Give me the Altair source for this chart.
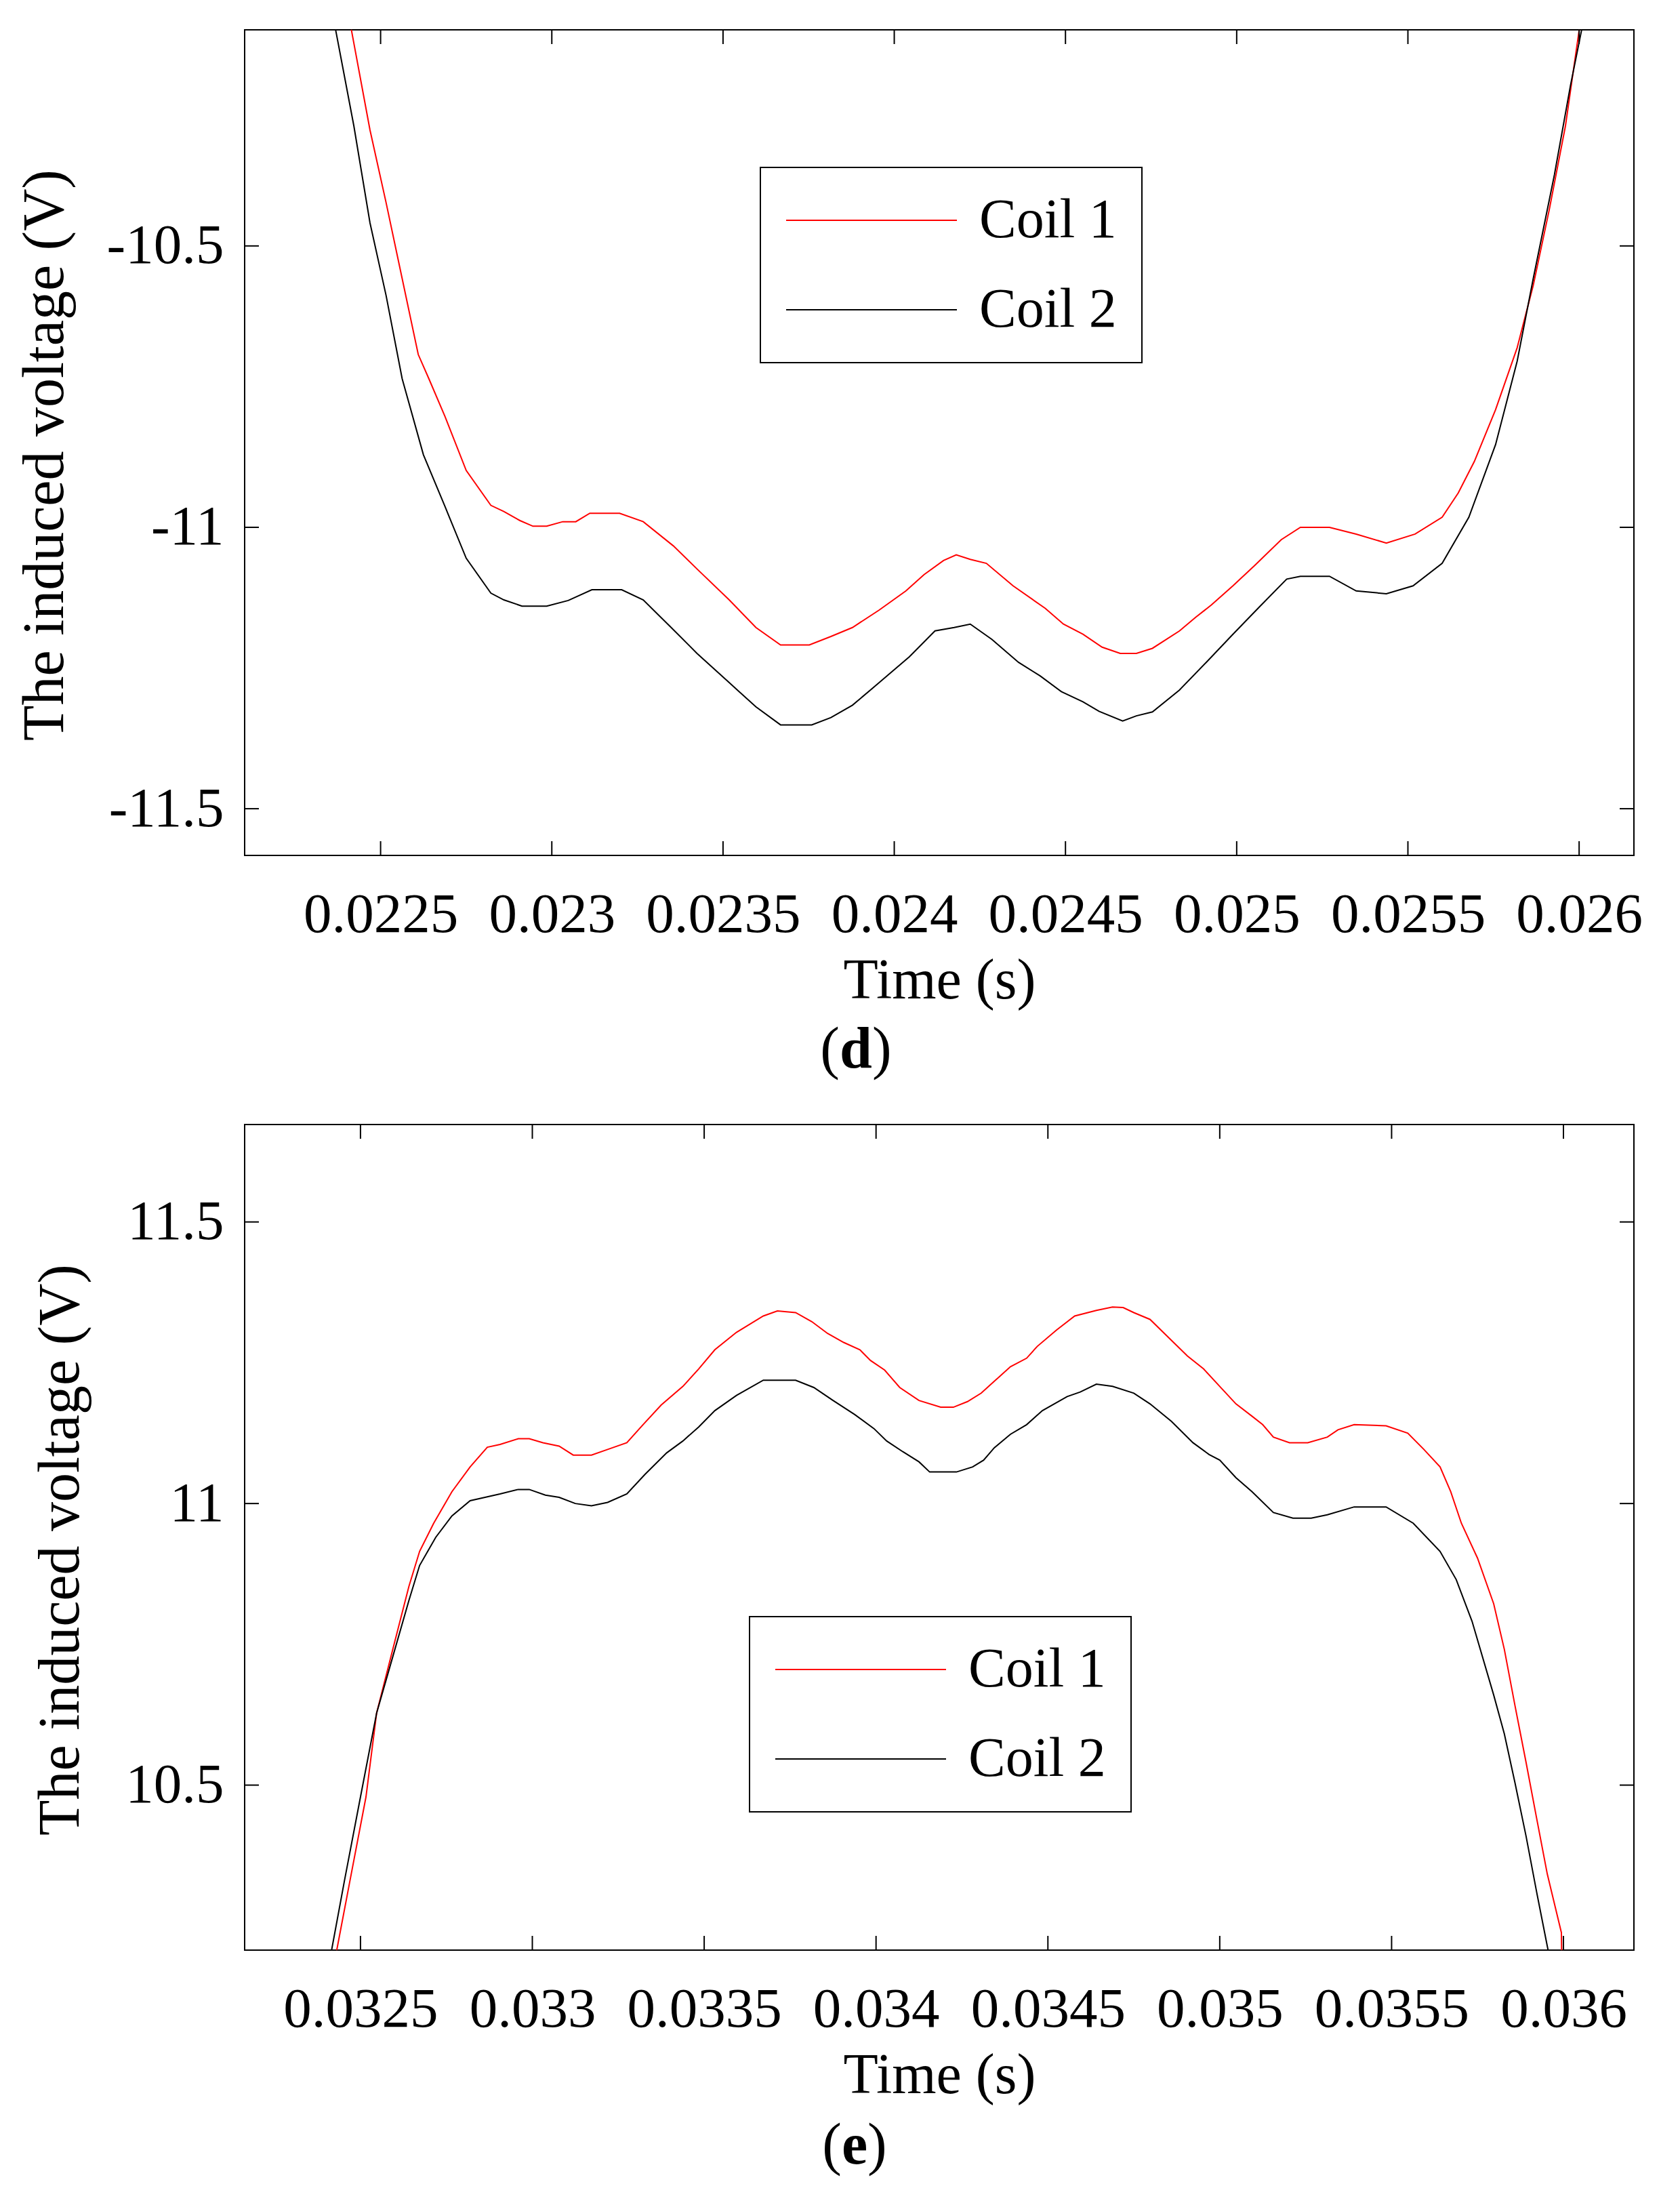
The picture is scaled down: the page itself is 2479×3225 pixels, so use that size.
import altair as alt
import pandas as pd

# ---------------- data ----------------
# panel (d)
t_d1 = [0.022395, 0.022415, 0.022469, 0.022516, 0.022563, 0.022610, 0.022641, 0.022688, 0.022750, 0.022822,
        0.022860, 0.022907, 0.022945, 0.022985, 0.023032, 0.023070, 0.023111, 0.023198, 0.023267, 0.023355,
        0.023424, 0.023518, 0.023596, 0.023668, 0.023752, 0.023815, 0.023878, 0.023956, 0.024034, 0.024087,
        0.024144, 0.024181, 0.024222, 0.024269, 0.024347, 0.024441, 0.024494, 0.024551, 0.024607, 0.024660,
        0.024707, 0.024754, 0.024833, 0.024880, 0.024926, 0.024989, 0.025052, 0.025130, 0.025186, 0.025271,
        0.025349, 0.025437, 0.025521, 0.025600, 0.025647, 0.025694, 0.025756, 0.025819, 0.025866, 0.025913,
        0.025960, 0.026000, 0.026016]
v_d1 = [-10.05, -10.117, -10.294, -10.423, -10.558, -10.693, -10.736, -10.803, -10.899, -10.961,
        -10.972, -10.988, -10.998, -10.998, -10.990, -10.990, -10.975, -10.975, -10.990, -11.033,
        -11.074, -11.129, -11.178, -11.209, -11.209, -11.194, -11.178, -11.147, -11.113, -11.084,
        -11.059, -11.049, -11.057, -11.064, -11.104, -11.144, -11.172, -11.190, -11.213, -11.224,
        -11.224, -11.215, -11.184, -11.160, -11.138, -11.104, -11.068, -11.022, -11.000, -11.000,
        -11.012, -11.028, -11.012, -10.982, -10.939, -10.883, -10.791, -10.681, -10.570, -10.435,
        -10.287, -10.117, -10.05]
t_d2 = [0.022348, 0.022369, 0.022422, 0.022469, 0.022516, 0.022563, 0.022625, 0.022688, 0.022750, 0.022822,
        0.022860, 0.022913, 0.022985, 0.023048, 0.023117, 0.023204, 0.023267, 0.023345, 0.023424, 0.023518,
        0.023596, 0.023668, 0.023759, 0.023815, 0.023878, 0.023956, 0.024044, 0.024119, 0.024175, 0.024222,
        0.024285, 0.024363, 0.024426, 0.024488, 0.024551, 0.024598, 0.024667, 0.024707, 0.024754, 0.024833,
        0.024911, 0.024989, 0.025067, 0.025146, 0.025186, 0.025271, 0.025349, 0.025437, 0.025515, 0.025600,
        0.025678, 0.025756, 0.025819, 0.025866, 0.025928, 0.025975, 0.026007, 0.026029]
v_d2 = [-10.05, -10.117, -10.287, -10.459, -10.588, -10.736, -10.871, -10.963, -11.055, -11.117,
        -11.129, -11.140, -11.140, -11.130, -11.111, -11.111, -11.129, -11.176, -11.224, -11.276,
        -11.319, -11.351, -11.351, -11.338, -11.316, -11.276, -11.230, -11.184, -11.178, -11.172,
        -11.199, -11.240, -11.264, -11.292, -11.310, -11.327, -11.344, -11.335, -11.328, -11.289,
        -11.240, -11.190, -11.141, -11.092, -11.087, -11.087, -11.113, -11.118, -11.104, -11.064,
        -10.982, -10.853, -10.705, -10.558, -10.373, -10.214, -10.117, -10.05]

# panel (e)
t_e1 = [0.032420, 0.032431, 0.032469, 0.032516, 0.032547, 0.032594, 0.032641, 0.032672, 0.032713, 0.032766,
        0.032819, 0.032869, 0.032906, 0.032959, 0.032991, 0.033031, 0.033078, 0.033119, 0.033172, 0.033219,
        0.033275, 0.033322, 0.033375, 0.033438, 0.033484, 0.033531, 0.033594, 0.033672, 0.033713, 0.033766,
        0.033813, 0.033859, 0.033906, 0.033953, 0.033984, 0.034025, 0.034069, 0.034125, 0.034188, 0.034225,
        0.034266, 0.034306, 0.034344, 0.034391, 0.034438, 0.034469, 0.034525, 0.034578, 0.034641, 0.034688,
        0.034719, 0.034750, 0.034797, 0.034844, 0.034906, 0.034953, 0.035000, 0.035047, 0.035094, 0.035125,
        0.035156, 0.035203, 0.035256, 0.035313, 0.035344, 0.035391, 0.035484, 0.035547, 0.035594, 0.035641,
        0.035672, 0.035703, 0.035750, 0.035797, 0.035828, 0.035859, 0.035891, 0.035922, 0.035953, 0.035994,
        0.035996]
v_e1 = [10.15, 10.207, 10.329, 10.479, 10.628, 10.741, 10.853, 10.915, 10.965, 11.021,
        11.065, 11.100, 11.105, 11.115, 11.115, 11.108, 11.102, 11.086, 11.086, 11.096,
        11.108, 11.140, 11.175, 11.208, 11.239, 11.273, 11.304, 11.333, 11.342, 11.339,
        11.323, 11.302, 11.286, 11.273, 11.254, 11.237, 11.206, 11.183, 11.171, 11.171,
        11.181, 11.196, 11.217, 11.243, 11.258, 11.279, 11.308, 11.333, 11.343, 11.349,
        11.348, 11.339, 11.327, 11.299, 11.262, 11.239, 11.208, 11.177, 11.155, 11.140,
        11.118, 11.108, 11.108, 11.118, 11.131, 11.140, 11.138, 11.125, 11.096, 11.065,
        11.021, 10.965, 10.903, 10.822, 10.741, 10.641, 10.541, 10.441, 10.342, 10.238,
        10.15]
t_e2 = [0.032405, 0.032416, 0.032453, 0.032500, 0.032547, 0.032594, 0.032641, 0.032672, 0.032719, 0.032766,
        0.032819, 0.032869, 0.032906, 0.032959, 0.032991, 0.033038, 0.033078, 0.033125, 0.033172, 0.033219,
        0.033275, 0.033328, 0.033391, 0.033438, 0.033484, 0.033531, 0.033594, 0.033672, 0.033766, 0.033819,
        0.033875, 0.033938, 0.033994, 0.034031, 0.034078, 0.034125, 0.034156, 0.034234, 0.034281, 0.034313,
        0.034344, 0.034391, 0.034438, 0.034484, 0.034556, 0.034594, 0.034641, 0.034688, 0.034750, 0.034797,
        0.034859, 0.034922, 0.034969, 0.035000, 0.035047, 0.035094, 0.035156, 0.035213, 0.035266, 0.035313,
        0.035391, 0.035484, 0.035563, 0.035641, 0.035688, 0.035734, 0.035797, 0.035828, 0.035859, 0.035891,
        0.035922, 0.035953, 0.035974]
v_e2 = [10.15, 10.207, 10.329, 10.479, 10.628, 10.728, 10.828, 10.890, 10.940, 10.978,
        11.005, 11.012, 11.017, 11.025, 11.025, 11.015, 11.011, 11.000, 10.996, 11.002,
        11.017, 11.052, 11.090, 11.111, 11.136, 11.165, 11.192, 11.219, 11.219, 11.206,
        11.183, 11.158, 11.133, 11.111, 11.092, 11.074, 11.056, 11.056, 11.065, 11.077,
        11.099, 11.123, 11.140, 11.165, 11.190, 11.198, 11.212, 11.208, 11.196, 11.177,
        11.146, 11.108, 11.087, 11.077, 11.046, 11.021, 10.984, 10.974, 10.974, 10.980,
        10.994, 10.994, 10.965, 10.915, 10.865, 10.791, 10.660, 10.591, 10.504, 10.410,
        10.310, 10.214, 10.15]

series_names = ["Coil 1", "Coil 2"]
series_colors = ["#ff0000", "#000000"]

xticks_d = [0.0225, 0.023, 0.0235, 0.024, 0.0245, 0.025, 0.0255, 0.026]
yticks_d = [-11.5, -11, -10.5]
xdom_d = [0.022103, 0.026160]
ydom_d = [-11.583, -10.116]

xticks_e = [0.0325, 0.033, 0.0335, 0.034, 0.0345, 0.035, 0.0355, 0.036]
yticks_e = [10.5, 11, 11.5]
xdom_e = [0.032163, 0.036205]
ydom_e = [10.207, 11.673]

# ---------------- styling ----------------
W, H = 2050, 1218
FONT = "Liberation Serif"
FS = 83          # tick labels
FS_LEG = 82      # legend labels
FS_XT = 84       # x title
FS_YT = 86       # y title
FS_CAP = 86      # (d)/(e) captions
TICK = 21
LBL = "datum.value < 0 ? '-' + format(-datum.value, '~g') : format(datum.value, '~g')"


def panel(t1, v1, t2, v2, xdom, ydom, xticks, yticks, letter, legx, legy, capx, capy):
    df = pd.concat([
        pd.DataFrame({"t": t1, "v": v1, "coil": series_names[0], "o": list(range(len(t1)))}),
        pd.DataFrame({"t": t2, "v": v2, "coil": series_names[1], "o": list(range(len(t2)))}),
    ])
    xs = alt.Scale(domain=xdom, nice=False, zero=False)
    ys = alt.Scale(domain=ydom, nice=False, zero=False)

    xaxis = alt.Axis(
        values=xticks, labelExpr=LBL, title="Time (s)", grid=False, ticks=False, tickSize=0,
        domain=False, labelFont=FONT, labelFontSize=FS, labelColor="black", labelPadding=46,
        labelOverlap=False, labelFlush=False, labelLimit=1000, titleFont=FONT, titleFontSize=FS_XT,
        titleFontWeight="normal", titleColor="black", titlePadding=15)
    yaxis = alt.Axis(
        values=yticks, labelExpr=LBL, title="The induced voltage (V)", grid=False, ticks=False,
        tickSize=0, domain=False, labelFont=FONT, labelFontSize=FS, labelColor="black",
        labelPadding=31, labelOverlap=False, labelFlush=False, labelLimit=1000, titleFont=FONT,
        titleFontSize=FS_YT, titleFontWeight="normal", titleColor="black", titlePadding=51,
        titleY=627)

    lines = alt.Chart(df).mark_line(clip=True, strokeWidth=2).encode(
        x=alt.X("t:Q", scale=xs, axis=xaxis),
        y=alt.Y("v:Q", scale=ys, axis=yaxis),
        color=alt.Color("coil:N", scale=alt.Scale(domain=series_names, range=series_colors),
                        legend=alt.Legend(
                            title=None, orient="none", legendX=legx, legendY=legy,
                            symbolType="stroke", symbolSize=252 * 252, symbolStrokeWidth=2,
                            clipHeight=82, labelFont=FONT, labelFontSize=FS_LEG, labelColor="black",
                            labelOffset=32, labelLimit=1000, padding=37, rowPadding=50,
                            strokeColor="black", fillColor="white", symbolOffset=0)),
        order="o:Q",
    )

    xt = pd.DataFrame({"t": xticks})
    yt = pd.DataFrame({"v": yticks})
    rule = dict(color="black", strokeWidth=2)
    bottom = alt.Chart(xt).mark_rule(**rule).encode(
        x=alt.X("t:Q", scale=xs, axis=xaxis), y=alt.value(H), y2=alt.value(H - TICK))
    top = alt.Chart(xt).mark_rule(**rule).encode(
        x=alt.X("t:Q", scale=xs, axis=xaxis), y=alt.value(0), y2=alt.value(TICK))
    left = alt.Chart(yt).mark_rule(**rule).encode(
        y=alt.Y("v:Q", scale=ys, axis=yaxis), x=alt.value(0), x2=alt.value(TICK))
    right = alt.Chart(yt).mark_rule(**rule).encode(
        y=alt.Y("v:Q", scale=ys, axis=yaxis), x=alt.value(W), x2=alt.value(W - TICK))

    half = 24 if letter == "d" else 19
    txt = dict(font=FONT, fontSize=FS_CAP, color="black", baseline="alphabetic")
    c1 = alt.Chart(pd.DataFrame({"s": ["("]})).mark_text(align="right", **txt).encode(
        text="s:N", x=alt.value(capx - half), y=alt.value(capy))
    c2 = alt.Chart(pd.DataFrame({"s": [letter]})).mark_text(align="center", fontWeight="bold", **txt).encode(
        text="s:N", x=alt.value(capx), y=alt.value(capy))
    c3 = alt.Chart(pd.DataFrame({"s": [")"]})).mark_text(align="left", **txt).encode(
        text="s:N", x=alt.value(capx + half), y=alt.value(capy))

    return alt.layer(lines, bottom, top, left, right, c1, c2, c3).properties(width=W, height=H)


pd_ = panel(t_d1, v_d1, t_d2, v_d2, xdom_d, ydom_d, xticks_d, yticks_d, "d", 761, 203, 902, 1531)
pe_ = panel(t_e1, v_e1, t_e2, v_e2, xdom_e, ydom_e, xticks_e, yticks_e, "e", 745, 726, 900, 1533)

chart = alt.vconcat(pd_, pe_, spacing=64).resolve_scale(color="independent").properties(
    padding={"left": 14, "top": 34, "right": 10, "bottom": 5}
).configure_view(stroke="black", strokeWidth=2).configure_legend(strokeWidth=2)

chart.save("out.html", embed_options={"renderer": "svg", "actions": False})
